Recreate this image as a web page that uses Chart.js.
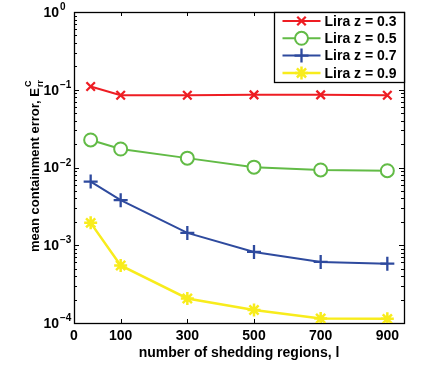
<!DOCTYPE html>
<html>
<head>
<meta charset="utf-8">
<script src="https://cdn.jsdelivr.net/npm/chart.js@4"></script>
<style>
  html, body { margin: 0; padding: 0; background: #fff; }
  canvas { display: block; }
</style>
</head>
<body>
<canvas id="errChart" width="422" height="368"></canvas>
<script>
// data
const regions = [10, 100, 300, 500, 700, 900];
const liraZ03 = [0.110, 0.085, 0.085, 0.086, 0.086, 0.085];
const liraZ05 = [0.0226, 0.0173, 0.0132, 0.0101, 0.0093, 0.0091];
const liraZ07 = [0.0066, 0.0038, 0.00144, 0.00082, 0.00061, 0.00058];
const liraZ09 = [0.00194, 0.00055, 0.000207, 0.000147, 0.000114, 0.000113];
const seriesNames = ['Lira z = 0.3', 'Lira z = 0.5', 'Lira z = 0.7', 'Lira z = 0.9'];
const xTickValues = [-40, 100, 300, 500, 700, 900];
const xTickLabels = ['0', '100', '300', '500', '700', '900'];
const yDecades = [-4, -3, -2, -1, 0];

const FONT = "'Liberation Sans', Arial, Helvetica, sans-serif";

const toPoints = ys => ys.map((y, i) => ({ x: regions[i], y: y }));

// inward ticks + box around the plot
const framePlugin = {
    id: 'frame',
    beforeDatasetsDraw(chart) {
        const { ctx, chartArea: a, scales: { x, y } } = chart;
        ctx.save();
        ctx.strokeStyle = '#000';
        ctx.lineWidth = 1;
        ctx.beginPath();
        x.ticks.forEach(t => {
            const px = Math.round(x.getPixelForValue(t.value)) + 0.5;
            ctx.moveTo(px, a.bottom); ctx.lineTo(px, a.bottom - 4);
            ctx.moveTo(px, a.top); ctx.lineTo(px, a.top + 4);
        });
        y.ticks.forEach(t => {
            const lg = Math.log10(t.value);
            const major = Math.abs(lg - Math.round(lg)) < 1e-9;
            const len = major ? 5 : 3;
            const py = Math.round(y.getPixelForValue(t.value)) + 0.5;
            ctx.moveTo(a.left, py); ctx.lineTo(a.left + len, py);
            ctx.moveTo(a.right, py); ctx.lineTo(a.right - len, py);
        });
        ctx.stroke();
        ctx.lineWidth = 1.3;
        ctx.strokeRect(Math.round(a.left) + 0.5, Math.round(a.top) + 0.5,
            Math.round(a.right - a.left), Math.round(a.bottom - a.top));
        ctx.restore();
    }
};

// 10^k labels and the y axis title with sub/superscripts
const labelPlugin = {
    id: 'labels',
    afterDraw(chart) {
        const { ctx, scales: { y } } = chart;
        ctx.save();
        ctx.fillStyle = '#000';
        yDecades.forEach(k => {
            const py = y.getPixelForValue(Math.pow(10, k));
            ctx.font = `bold 14px ${FONT}`;
            ctx.textAlign = 'right';
            ctx.textBaseline = 'middle';
            ctx.fillText('10', 59, py + 1);
            ctx.font = `bold 10px ${FONT}`;
            ctx.textAlign = 'left';
            ctx.textBaseline = 'alphabetic';
            ctx.fillText(k < 0 ? '\u2212' + (-k) : String(k), 60, py - 2);
        });

        // y title
        const main = 'mean containment error, E';
        ctx.font = `bold 13px ${FONT}`;
        const wMain = ctx.measureText(main).width;
        ctx.font = `bold 9px ${FONT}`;
        const wSub = ctx.measureText('rr').width;
        const wSup = ctx.measureText('C').width;
        const total = wMain + 1 + Math.max(wSub, wSup);
        ctx.translate(39, 166);
        ctx.rotate(-Math.PI / 2);
        ctx.textAlign = 'left';
        ctx.textBaseline = 'alphabetic';
        let sx = -total / 2;
        ctx.font = `bold 13px ${FONT}`;
        ctx.fillText(main, sx, 0);
        sx += wMain + 1;
        ctx.font = `bold 9px ${FONT}`;
        ctx.fillText('rr', sx, 4);
        ctx.fillText('C', sx, -8);
        ctx.restore();
    }
};

function drawMarker(ctx, ds, x, y) {
    ctx.save();
    ctx.strokeStyle = ds.borderColor;
    ctx.fillStyle = ds.pointBackgroundColor;
    ctx.lineWidth = ds.pointBorderWidth;
    Chart.helpers.drawPoint(ctx, {
        pointStyle: ds.pointStyle,
        radius: ds.pointRadius,
        rotation: 0,
        borderWidth: ds.pointBorderWidth
    }, x, y);
    ctx.restore();
}

// legend in the top right corner, line + marker like the original
const legendPlugin = {
    id: 'boxLegend',
    afterDatasetsDraw(chart) {
        const { ctx, chartArea: a } = chart;
        const w = 130, h = 70;
        const left = Math.round(a.right - w) + 0.5;
        const top = Math.round(a.top) + 0.5;
        ctx.save();
        ctx.fillStyle = '#fff';
        ctx.fillRect(left, top, w, h);
        ctx.strokeStyle = '#000';
        ctx.lineWidth = 1.3;
        ctx.strokeRect(left, top, w, h);
        chart.data.datasets.forEach((ds, i) => {
            const cy = top + 8.5 + i * 17.3;
            ctx.strokeStyle = ds.borderColor;
            ctx.lineWidth = ds.borderWidth;
            ctx.beginPath();
            ctx.moveTo(left + 8, cy);
            ctx.lineTo(left + 46, cy);
            ctx.stroke();
            drawMarker(ctx, ds, left + 27, cy);
            ctx.fillStyle = '#000';
            ctx.font = `bold 14px ${FONT}`;
            ctx.textAlign = 'left';
            ctx.textBaseline = 'middle';
            ctx.fillText(ds.label, left + 50, cy + 1);
        });
        ctx.restore();
    }
};

new Chart(document.getElementById('errChart'), {
    type: 'line',
    data: {
        datasets: [
            {
                label: seriesNames[0], data: toPoints(liraZ03),
                borderColor: '#ee1d23', borderWidth: 2,
                pointStyle: 'crossRot', pointRadius: 6, pointBorderWidth: 2.3,
                pointBackgroundColor: 'rgba(0,0,0,0)'
            },
            {
                label: seriesNames[1], data: toPoints(liraZ05),
                borderColor: '#62bb46', borderWidth: 2,
                pointStyle: 'circle', pointRadius: 6.5, pointBorderWidth: 2,
                pointBackgroundColor: '#fff'
            },
            {
                label: seriesNames[2], data: toPoints(liraZ07),
                borderColor: '#2e4a9e', borderWidth: 2,
                pointStyle: 'cross', pointRadius: 7, pointBorderWidth: 2.3,
                pointBackgroundColor: 'rgba(0,0,0,0)'
            },
            {
                label: seriesNames[3], data: toPoints(liraZ09),
                borderColor: '#f8ec1c', borderWidth: 2.5,
                pointStyle: 'star', pointRadius: 6.5, pointBorderWidth: 2.5,
                pointBackgroundColor: 'rgba(0,0,0,0)'
            }
        ]
    },
    options: {
        responsive: false,
        animation: false,
        layout: { padding: { top: 12, right: 18, left: 0, bottom: 0 } },
        plugins: {
            legend: { display: false },
            tooltip: { enabled: false }
        },
        elements: { line: { tension: 0 } },
        scales: {
            x: {
                type: 'linear',
                min: -40,
                max: 950,
                afterBuildTicks: s => { s.ticks = xTickValues.map(v => ({ value: v })); },
                afterFit: s => { s.height = 45; },
                grid: { display: false, drawTicks: false },
                border: { display: false },
                ticks: {
                    autoSkip: false,
                    maxRotation: 0,
                    padding: 5,
                    color: '#000',
                    font: { family: FONT, size: 14, weight: 'bold' },
                    callback: (v, i) => xTickLabels[i]
                },
                title: {
                    display: true,
                    text: 'number of shedding regions, l',
                    color: '#000',
                    padding: { top: 0, bottom: 6 },
                    font: { family: FONT, size: 14, weight: 'bold' }
                }
            },
            y: {
                type: 'logarithmic',
                min: 1e-4,
                max: 1,
                afterBuildTicks: s => {
                    const t = [];
                    for (let k = -4; k < 0; k++) {
                        for (let m = 1; m <= 9; m++) t.push({ value: m * Math.pow(10, k) });
                    }
                    t.push({ value: 1 });
                    s.ticks = t;
                },
                afterFit: s => { s.width = 74; },
                grid: { display: false, drawTicks: false },
                border: { display: false },
                ticks: { display: false }
            }
        }
    },
    plugins: [framePlugin, labelPlugin, legendPlugin]
});
</script>
</body>
</html>
